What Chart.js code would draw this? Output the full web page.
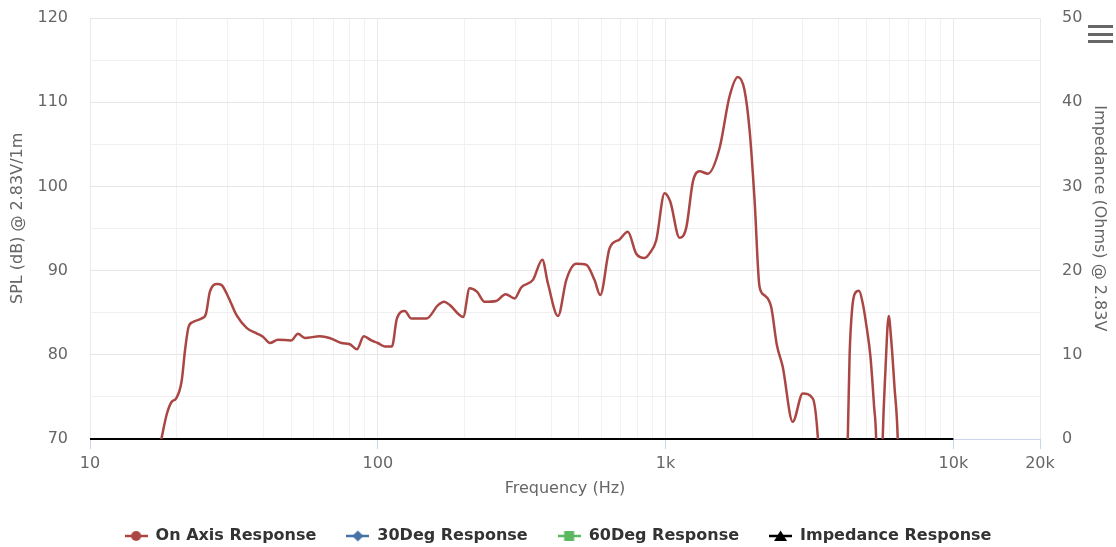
<!DOCTYPE html>
<html>
<head>
<meta charset="utf-8">
<script src="https://cdn.jsdelivr.net/npm/chart.js@4/dist/chart.umd.min.js"></script>
<style>
  html, body { margin: 0; padding: 0; background: #fff; overflow: hidden; }
  #wrap { position: relative; width: 1116px; height: 554px; }
  .bar { position: absolute; left: 1088px; width: 25px; height: 3px; background: #666; }
</style>
</head>
<body>
<div id="wrap">
  <canvas id="c"></canvas>
  <div class="bar" style="top:25px"></div>
  <div class="bar" style="top:33px"></div>
  <div class="bar" style="top:40px"></div>
</div>
<script>
// ---- Data ----
const seriesNames = ['On Axis Response', '30Deg Response', '60Deg Response', 'Impedance Response'];
const seriesColors = ['#AA4643', '#4572A7', '#5CB860', '#000000'];

const freqHz = [10, 14, 16.5, 17.7, 18.5, 19.2, 19.9, 20.8, 21.4, 22.0, 22.8, 24.4, 25.3, 26.1, 27.7, 28.6, 30.2, 32.3, 35, 37.9,
  39.9, 42.2, 45, 50, 52.8, 55.8, 62.9, 68, 74.8, 80, 84.6, 89.4, 95, 100, 105.7, 112, 116.5, 124, 131, 147.6,
  162, 170, 178, 198, 208.5, 221, 235, 258, 278, 299, 315, 346, 373, 390, 423, 452, 489, 530, 566, 593,
  639, 692, 739, 791, 845, 880, 928, 992, 1038, 1118, 1180, 1245, 1313, 1402, 1539, 1667, 1783, 1880, 1958, 2038,
  2120, 2200, 2327, 2435, 2552, 2765, 2997, 3248, 3380, 3500, 3800, 4150, 4296, 4360, 4450, 4550, 4700, 4850, 4975, 5150,
  5300, 5391, 5530, 5681, 5808, 5960, 6072, 6243, 6408, 6600, 8000, 10000, 20000];

const onAxisDb = [40, 55, 65, 70, 73.0, 74.4, 74.8, 76.8, 80.6, 83.3, 83.9, 84.3, 84.9, 87.5, 88.4, 88.3, 86.9, 84.7, 83.2, 82.55,
  82.15, 81.4, 81.8, 81.7, 82.5, 82.0, 82.2, 82.0, 81.4, 81.25, 80.65, 82.2, 81.7, 81.4, 81.0, 81.0, 84.3, 85.2, 84.3, 84.3,
  85.9, 86.3, 85.9, 84.5, 87.9, 87.5, 86.3, 86.4, 87.2, 86.7, 88.0, 88.9, 91.3, 88.5, 84.6, 88.9, 90.8, 90.7, 88.9, 87.1,
  92.65, 93.7, 94.6, 92.0, 91.5, 92.05, 93.6, 99.2, 98.2, 93.9, 95.1, 100.6, 101.8, 101.5, 104.5, 110.65, 113.0, 111.45, 106.7, 98.4,
  88.1, 87.1, 85.7, 81.2, 78.6, 72.05, 75.4, 74.8, 70.3, 60, 45, 55, 70, 80, 85.5, 87.3, 87.6, 86.0, 83.7, 79.8,
  74, 70, 50, 70, 78.2, 84.6, 82.1, 76.2, 70, 50, 40, 35, 30];

const deg30Db = [];
const deg60Db = [];

const impFreqHz = [10, 100, 1000, 10000];
const impedanceOhms = [0, 0, 0, 0];

const xTickValues = [10, 20, 30, 40, 50, 60, 70, 80, 90, 100, 200, 300, 400, 500, 600, 700, 800, 900,
  1000, 2000, 3000, 4000, 5000, 6000, 7000, 8000, 9000, 10000, 20000];
const xLabelValues = [10, 100, 1000, 10000, 20000];
const xLabelTexts = ['10', '100', '1k', '10k', '20k'];

// ---- Build ----
const zip = (xs, ys) => xs.map((x, i) => ({ x: x, y: ys[i] }));

function makeSymbol(color, shape) {
  const c = document.createElement('canvas');
  c.width = 23; c.height = 14;
  const g = c.getContext('2d');
  g.strokeStyle = color; g.fillStyle = color; g.lineWidth = 2.5;
  g.beginPath(); g.moveTo(0, 7); g.lineTo(23, 7); g.stroke();
  const cx = 11.5, cy = 7;
  g.beginPath();
  if (shape === 'circle') { g.arc(cx, cy, 5, 0, Math.PI * 2); }
  else if (shape === 'diamond') { g.moveTo(cx, cy - 5.5); g.lineTo(cx + 5.5, cy); g.lineTo(cx, cy + 5.5); g.lineTo(cx - 5.5, cy); g.closePath(); }
  else if (shape === 'square') { g.rect(cx - 5, cy - 5, 10, 10); }
  else if (shape === 'triangle') { g.moveTo(cx, cy - 5.5); g.lineTo(cx + 6.5, cy + 5); g.lineTo(cx - 6.5, cy + 5); g.closePath(); }
  g.fill();
  return c;
}
const legendSymbols = [
  makeSymbol(seriesColors[0], 'circle'),
  makeSymbol(seriesColors[1], 'diamond'),
  makeSymbol(seriesColors[2], 'square'),
  makeSymbol(seriesColors[3], 'triangle')
];

Chart.defaults.font.family = "'DejaVu Sans', sans-serif";
Chart.defaults.font.size = 16;
Chart.defaults.color = '#666666';

new Chart(document.getElementById('c'), {
  type: 'line',
  data: {
    datasets: [
      { label: seriesNames[0], data: zip(freqHz, onAxisDb), borderColor: seriesColors[0], backgroundColor: seriesColors[0],
        borderWidth: 2.5, pointRadius: 0, cubicInterpolationMode: 'monotone', yAxisID: 'y' },
      { label: seriesNames[1], data: deg30Db, borderColor: seriesColors[1], backgroundColor: seriesColors[1], pointRadius: 0, yAxisID: 'y' },
      { label: seriesNames[2], data: deg60Db, borderColor: seriesColors[2], backgroundColor: seriesColors[2], pointRadius: 0, yAxisID: 'y' },
      { label: seriesNames[3], data: zip(impFreqHz, impedanceOhms), borderColor: seriesColors[3], backgroundColor: seriesColors[3],
        borderWidth: 2, pointRadius: 0, yAxisID: 'y2', clip: 4 }
    ]
  },
  options: {
    responsive: true,
    maintainAspectRatio: false,
    animation: false,
    layout: { padding: { top: 18, left: 0, right: 0, bottom: 0 } },
    plugins: {
      tooltip: { enabled: false },
      legend: {
        position: 'bottom',
        labels: {
          usePointStyle: true,
          pointStyleWidth: 23,
          padding: 30,
          color: '#333333',
          font: { size: 16, weight: 'bold' },
          generateLabels: (chart) => chart.data.datasets.map((ds, i) => ({
            text: ds.label,
            pointStyle: legendSymbols[i],
            fillStyle: ds.borderColor,
            strokeStyle: ds.borderColor,
            lineWidth: 0,
            fontColor: '#333333',
            hidden: !chart.isDatasetVisible(i),
            datasetIndex: i
          }))
        }
      }
    },
    scales: {
      x: {
        type: 'logarithmic',
        min: 10,
        max: 20000,
        afterBuildTicks: (s) => { s.ticks = xTickValues.map(v => ({ value: v })); },
        afterFit: (s) => { s.height = 59; },
        ticks: {
          autoSkip: false,
          maxRotation: 0,
          padding: 5,
          color: '#666666',
          callback: (v) => { const k = xLabelValues.indexOf(v); return k >= 0 ? xLabelTexts[k] : ''; }
        },
        grid: {
          color: (ctx) => (ctx.tick && xLabelValues.indexOf(ctx.tick.value) >= 0) ? '#e9e9e9' : '#f2f2f2',
          tickColor: (ctx) => (ctx.tick && xLabelValues.indexOf(ctx.tick.value) >= 0) ? '#ccd6eb' : 'rgba(0,0,0,0)',
          tickLength: 10,
          lineWidth: 1
        },
        border: { color: '#ccd6eb', width: 1 },
        title: { display: true, text: 'Frequency (Hz)', color: '#666666', font: { size: 16 }, padding: { top: 4, bottom: 0 } }
      },
      y: {
        position: 'left',
        min: 70,
        max: 120,
        afterFit: (s) => { s.width = 90; },
        ticks: {
          stepSize: 5,
          padding: 2,
          color: '#666666',
          callback: (v) => (v % 10 === 0 ? String(v) : '')
        },
        grid: {
          drawTicks: true,
          tickLength: 20,
          tickColor: 'rgba(0,0,0,0)',
          color: (ctx) => (ctx.tick && ctx.tick.value % 10 === 0) ? '#e6e6e6' : '#f0f0f0'
        },
        border: { display: false },
        title: { display: true, text: '    SPL (dB) @ 2.83V/1m', color: '#666666', font: { size: 16 }, padding: { top: 8, bottom: 0 } }
      },
      y2: {
        position: 'right',
        min: 0,
        max: 50,
        afterFit: (s) => { s.width = 76; },
        ticks: { stepSize: 10, padding: 2, color: '#666666' },
        grid: { drawOnChartArea: false, drawTicks: true, tickLength: 20, tickColor: 'rgba(0,0,0,0)' },
        border: { display: false },
        title: { display: true, text: 'Impedance (Ohms) @ 2.83V    ', color: '#666666', font: { size: 16 }, padding: { top: 7, bottom: 0 } }
      }
    }
  }
});
</script>
</body>
</html>
